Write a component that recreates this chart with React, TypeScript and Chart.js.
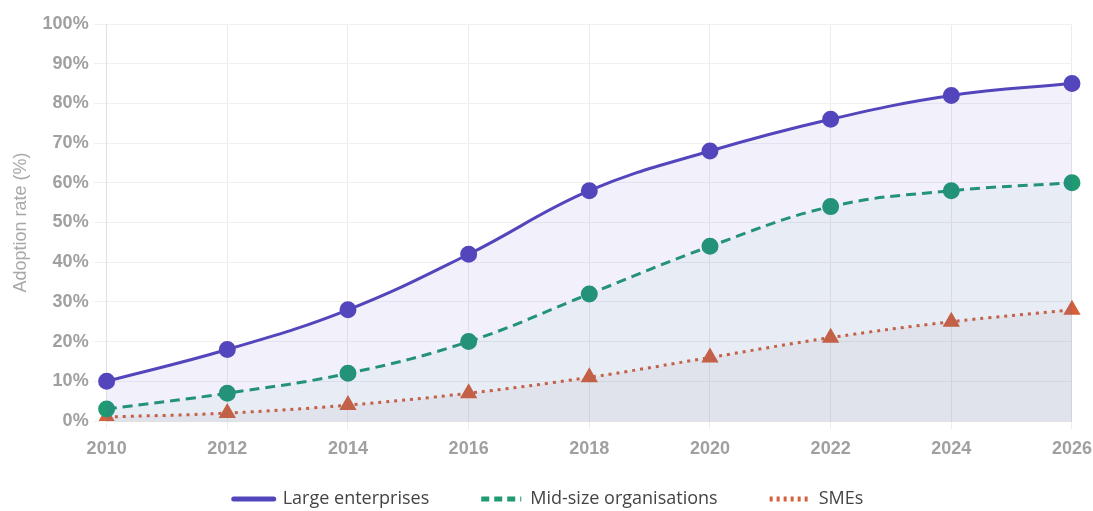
import React, { useEffect, useRef } from "react";
import { Chart, registerables } from "chart.js";

Chart.register(...registerables);

const years = ["2010", "2012", "2014", "2016", "2018", "2020", "2022", "2024", "2026"];
const large = [10, 18, 28, 42, 58, 68, 76, 82, 85];
const mid = [3, 7, 12, 20, 32, 44, 54, 58, 60];
const smes = [1, 2, 4, 7, 11, 16, 21, 25, 28];
const yTicks = [0, 10, 20, 30, 40, 50, 60, 70, 80, 90, 100];

const C_LARGE = "#5346bd";
const C_MID = "#1f9a73";
const C_SME = "#d5603b";

export default function App() {
  const ref = useRef<HTMLCanvasElement>(null);
  useEffect(() => {
    if (!ref.current) return;
    const tickFont = { family: "'Liberation Sans', Arial, sans-serif", size: 18, weight: "bold" as const };
    const chart = new Chart(ref.current, {
      type: "line",
      data: {
        labels: years,
        datasets: [
          {
            label: "Large enterprises",
            data: large,
            borderColor: C_LARGE,
            backgroundColor: "rgba(83,70,189,0.08)",
            pointBackgroundColor: C_LARGE,
            pointBorderColor: C_LARGE,
            borderWidth: 3,
            pointRadius: 7,
            pointStyle: "circle",
            fill: "origin",
            tension: 0.4,
          },
          {
            label: "Mid-size organisations",
            data: mid,
            borderColor: C_MID,
            backgroundColor: "rgba(31,154,115,0.05)",
            pointBackgroundColor: C_MID,
            pointBorderColor: C_MID,
            borderWidth: 3,
            borderDash: [10, 6],
            pointRadius: 7,
            pointStyle: "circle",
            fill: "origin",
            tension: 0.4,
          },
          {
            label: "SMEs",
            data: smes,
            borderColor: C_SME,
            backgroundColor: "rgba(120,110,100,0.06)",
            pointBackgroundColor: C_SME,
            pointBorderColor: C_SME,
            borderWidth: 3,
            borderDash: [3, 5],
            pointRadius: 7,
            pointStyle: "triangle",
            fill: "origin",
            tension: 0.4,
          },
        ],
      },
      options: {
        animation: false,
        responsive: true,
        maintainAspectRatio: false,
        layout: { padding: { top: 24, right: 8, bottom: 0, left: 4 } },
        plugins: {
          legend: {
            position: "bottom",
            labels: {
              usePointStyle: true,
              pointStyleWidth: 40,
              boxWidth: 40,
              boxHeight: 18,
              padding: 52,
              color: "#444",
              font: { family: "'Open Sans', sans-serif", size: 18 },
              generateLabels: (ch: any) =>
                ch.data.datasets.map((ds: any, i: number) => ({
                  text: ds.label,
                  fillStyle: ds.borderColor,
                  strokeStyle: ds.borderColor,
                  lineWidth: 5,
                  lineDash: i === 1 ? [8, 5] : i === 2 ? [3, 4] : [],
                  lineCap: i === 0 ? "round" : "butt",
                  pointStyle: "line",
                  hidden: false,
                  datasetIndex: i,
                  fontColor: "#444",
                })),
            },
          },
          tooltip: { enabled: false },
        },
        scales: {
          x: {
            type: "category",
            offset: false,
            grid: { color: "#ececec", tickLength: 8 },
            border: { color: "#e0e0e0" },
            ticks: {
              color: "#a0a0a0",
              font: tickFont,
              padding: 9,
            },
            afterFit: (scale: any) => {
              scale.height = 17;
              scale._computeLabelArea = () => undefined;
            },
          },
          y: {
            min: 0,
            max: 100,
            afterBuildTicks: (axis: any) => {
              axis.ticks = yTicks.map((v) => ({ value: v }));
            },
            grid: { color: "#f0f0f0", tickLength: 13 },
            border: { color: "#e0e0e0" },
            title: {
              display: true,
              text: "Adoption rate (%)",
              color: "#a8a8a8",
              font: { family: "'Liberation Sans', Arial, sans-serif", size: 18 },
              padding: 6,
            },
            ticks: {
              color: "#a0a0a0",
              font: tickFont,
              padding: 5,
              callback: (v: any) => v + "%",
            },
          },
        },
      },
    });
    return () => chart.destroy();
  }, []);
  return (
    <div style={{ position: "fixed", left: 0, top: 0, width: 1101, height: 518 }}>
      <canvas ref={ref} />
    </div>
  );
}
